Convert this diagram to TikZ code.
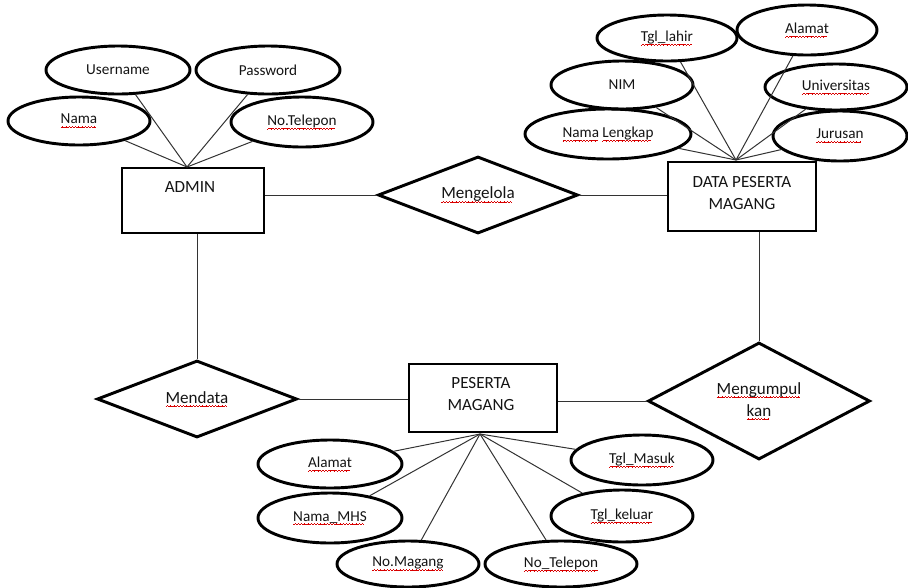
\documentclass[tikz,border=0pt]{standalone}
\usepackage{fontspec}
\setmainfont{Carlito}
\usetikzlibrary{shapes.geometric,calc}

% red wavy spell-check mark under a word
\newcommand\spl[1]{\setbox0=\hbox{#1}\rlap{\color{red!85!black}\leaders\hbox{\rule[-2.9pt]{0.6pt}{0.4pt}\rule[-2.5pt]{0.6pt}{0.4pt}\rule[-2.1pt]{0.6pt}{0.4pt}\rule[-2.5pt]{0.6pt}{0.4pt}}\hskip\wd0}\box0\relax}

\begin{document}
\begin{tikzpicture}[x=0.75pt,y=-0.75pt,
  every node/.style={text=black!92, font=\fontsize{11.4}{16.5}\selectfont},
  big/.style={font=\fontsize{12.8}{16.5}\selectfont},
  sz/.style 2 args={minimum width=#1*0.75pt, minimum height=#2*0.75pt},
  attr/.style={ellipse, draw, line width=2.2pt, inner sep=0pt},
  ent/.style={rectangle, draw, line width=2.2pt, inner sep=0pt},
  rel/.style={diamond, draw, line width=2.2pt, inner sep=0pt, aspect=2.5, align=center, big},
  lbl/.style={inner sep=0pt, align=center, big},
  link/.style={line width=0.75pt, draw=black!80}
]
\useasboundingbox (0,0) rectangle (908,587);

% ---------- entities ----------
\node[ent, sz={142}{65}] (admin) at (193,200.5) {};
\node[lbl] (adminT) at (190,187) {ADMIN};

\node[ent, sz={148}{69}] (data) at (742,196.5) {};
\node[lbl] (dataT) at (742,193) {DATA PESERTA\\MAGANG};

\node[ent, sz={148}{68}] (peserta) at (483,398) {};
\node[lbl] (pesertaT) at (481,394.5) {PESERTA\\MAGANG};

% ---------- relationships ----------
\node[rel, sz={200}{77}] (kelola) at (478,195) {\spl{Mengelola}};
\node[rel, sz={200}{77}] (mendata) at (197,399) {\spl{Mendata}};
\node[rel, sz={222}{117}] (kumpul) at (759,401) {\spl{Mengumpul}\\\spl{kan}};

% ---------- attributes of ADMIN ----------
\coordinate (adminTop) at (187,167);
\node[attr, sz={144}{48}] (aUser) at (118,70) {Username};
\node[attr, sz={144}{48}] (aPass) at (268,70) {Password};
\node[attr, sz={142}{48}] (aNama) at (79,121) {\spl{Nama}};
\node[attr, sz={142}{50}] (aTelp) at (302,122) {\spl{No.Telepon}};

% ---------- attributes of DATA PESERTA MAGANG ----------
\coordinate (dataTop) at (736,160);
\node[attr, sz={140}{46}] (dTgl) at (667,38) {\spl{Tgl\_lahir}};
\node[attr, sz={140}{50}] (dAlamat) at (807,30) {\spl{Alamat}};
\node[attr, sz={142}{48}] (dNim) at (622,85) {NIM};
\node[attr, sz={142}{46}] (dUniv) at (836,87) {\spl{Universitas}};
\node[attr, sz={166}{50}] (dNama) at (608,134) {\spl{Nama} \spl{Lengkap}};
\node[attr, sz={134}{50}] (dJur) at (840,136) {\spl{Jurusan}};

% ---------- attributes of PESERTA MAGANG ----------
\coordinate (pesBot) at (480,434);
\node[attr, sz={144}{48}] (pAlamat) at (330,464) {\spl{Alamat}};
\node[attr, sz={142}{50}] (pMasuk) at (642,460) {\spl{Tgl\_Masuk}};
\node[attr, sz={144}{50}] (pMhs) at (330,518) {\spl{Nama\_MHS}};
\node[attr, sz={142}{52}] (pKeluar) at (622,516) {\spl{Tgl\_keluar}};
\node[attr, sz={142}{46}] (pMagang) at (408,564) {\spl{No.Magang}};
\node[attr, sz={152}{46}] (pTelp) at (561,564) {\spl{No\_Telepon}};

% ---------- connectors ----------
\foreach \a in {aUser,aPass,aNama,aTelp} \draw[link] (\a) -- (adminTop);
\foreach \a in {dTgl,dAlamat,dNim,dUniv,dNama,dJur} \draw[link] (\a) -- (dataTop);
\foreach \a in {pAlamat,pMasuk,pMhs,pKeluar,pMagang,pTelp} \draw[link] (\a) -- (pesBot);

\draw[link] (admin.east |- kelola.west) -- (kelola.west);
\draw[link] (kelola.east) -- (data.west |- kelola.east);
\draw[link] (kumpul.north |- data.south) -- (kumpul.north);
\draw[link] (mendata.north |- admin.south) -- (mendata.north);
\draw[link] (mendata.east) -- (peserta.west |- mendata.east);
\draw[link] (peserta.east |- kumpul.west) -- (kumpul.west);
\end{tikzpicture}
\end{document}
